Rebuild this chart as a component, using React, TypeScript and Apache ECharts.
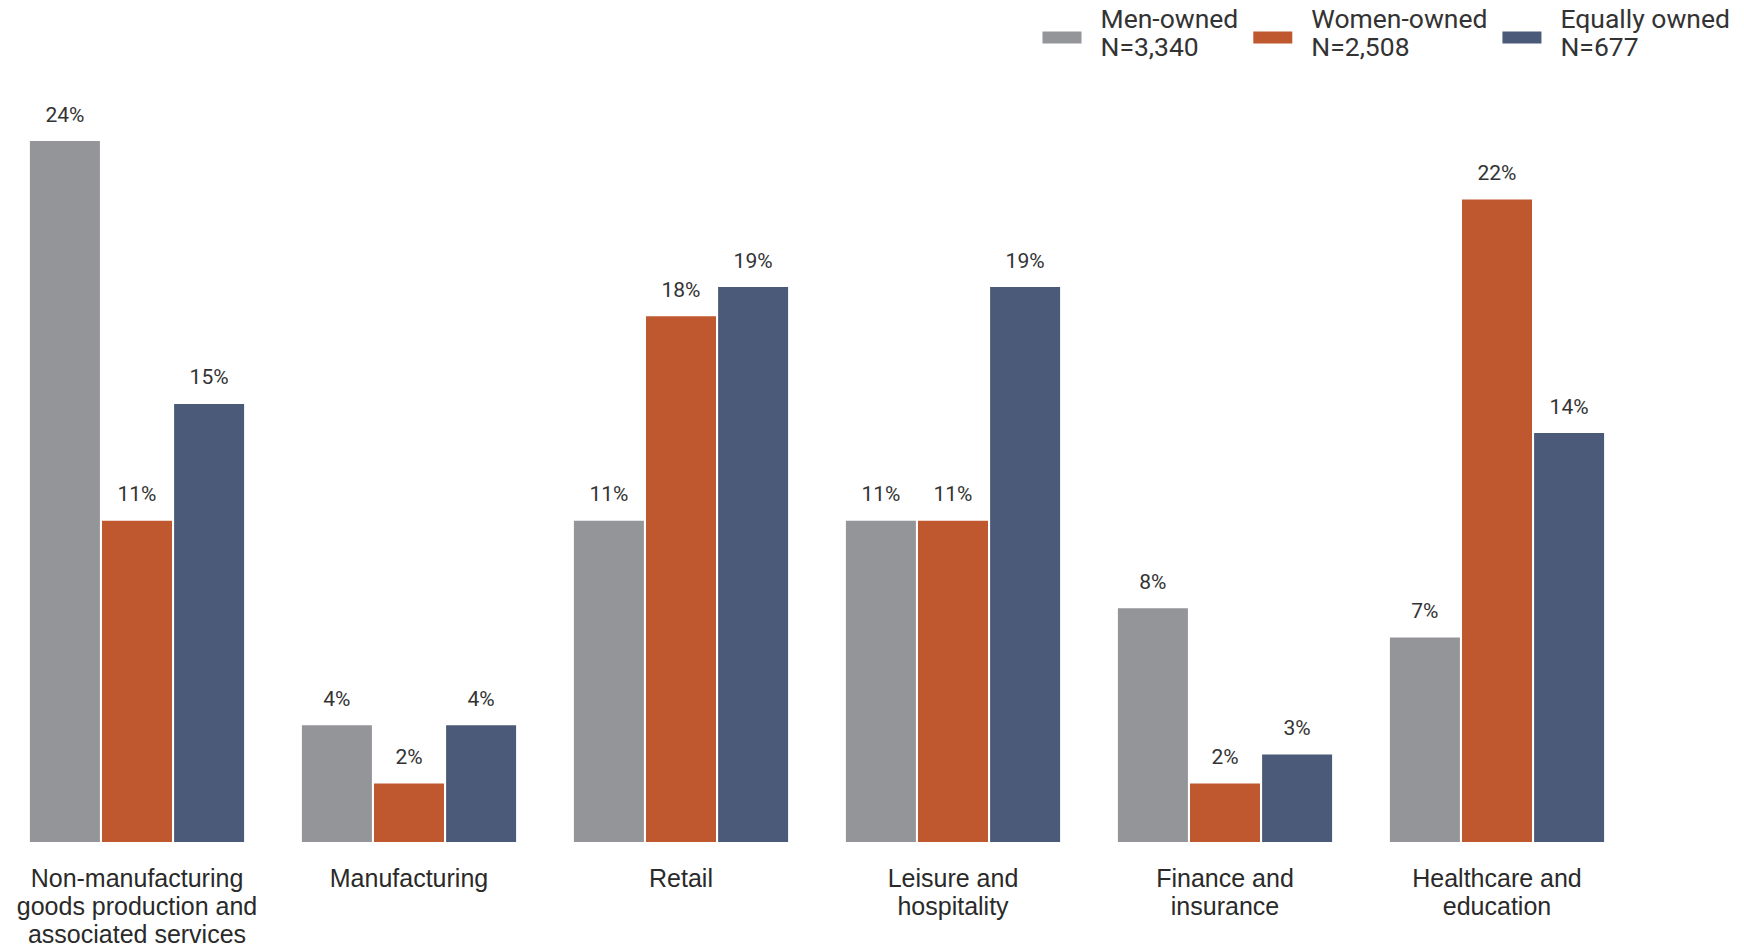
import React, { useEffect, useRef } from "react";
import * as echarts from "echarts";

const categories = [
  "Non-manufacturing\ngoods production and\nassociated services",
  "Manufacturing",
  "Retail",
  "Leisure and\nhospitality",
  "Finance and\ninsurance",
  "Healthcare and\neducation",
];
const seriesNames = ["Men-owned", "Women-owned", "Equally owned"];
const seriesN = ["N=3,340", "N=2,508", "N=677"];
const menOwned = [24, 4, 11, 11, 8, 7];
const womenOwned = [11, 2, 18, 11, 2, 22];
const equallyOwned = [15, 4, 19, 19, 3, 14];
const colors = ["#939598", "#C0582F", "#4B5A78"];

export default function App() {
  const ref = useRef<HTMLDivElement>(null);
  useEffect(() => {
    if (!ref.current) return;
    const chart = echarts.init(ref.current, null, { renderer: "svg" });
    const values = [menOwned, womenOwned, equallyOwned];
    chart.setOption({
      animation: false,
      backgroundColor: "#ffffff",
      grid: { left: 1, right: 111, top: 141, bottom: 106, containLabel: false },
      legend: {
        right: 9,
        top: -1,
        itemWidth: 39,
        itemHeight: 12,
        itemGap: 15,
        icon: "rect",
        data: seriesNames,
        formatter: (name: string) =>
          "{a|" + name + "}\n{a|" + seriesN[seriesNames.indexOf(name)] + "}\n{b| }",
        textStyle: {
          fontFamily: "Roboto",
          fontSize: 26.5,
          lineHeight: 28,
          color: "#333333",
          padding: [0, 0, 0, 14],
          rich: {
            a: {
              fontFamily: "Roboto",
              fontSize: 26.5,
              lineHeight: 28,
              color: "#333333",
            },
            b: {
              fontSize: 8,
              lineHeight: 11,
            },
          },
        },
      },
      xAxis: {
        type: "category",
        data: categories,
        axisLine: { show: false },
        axisTick: { show: false },
        axisLabel: {
          interval: 0,
          margin: 22,
          fontFamily: "Liberation Sans, Arial, sans-serif",
          fontSize: 25,
          lineHeight: 28,
          color: "#2a2a2a",
        },
      },
      yAxis: {
        type: "value",
        min: 0,
        max: 24,
        show: false,
        splitLine: { show: false },
      },
      series: seriesNames.map((name, i) => ({
        name,
        type: "bar",
        data: values[i],
        barWidth: 70,
        barGap: "3%",
        itemStyle: { color: colors[i] },
        label: {
          show: true,
          position: "top",
          distance: 16,
          formatter: "{c}%",
          fontFamily: "Roboto",
          fontSize: 21,
          color: "#333333",
        },
      })),
    });
    return () => chart.dispose();
  }, []);
  return (
    <div
      ref={ref}
      style={{ position: "absolute", left: 0, top: 0, width: 1744, height: 948 }}
    />
  );
}
